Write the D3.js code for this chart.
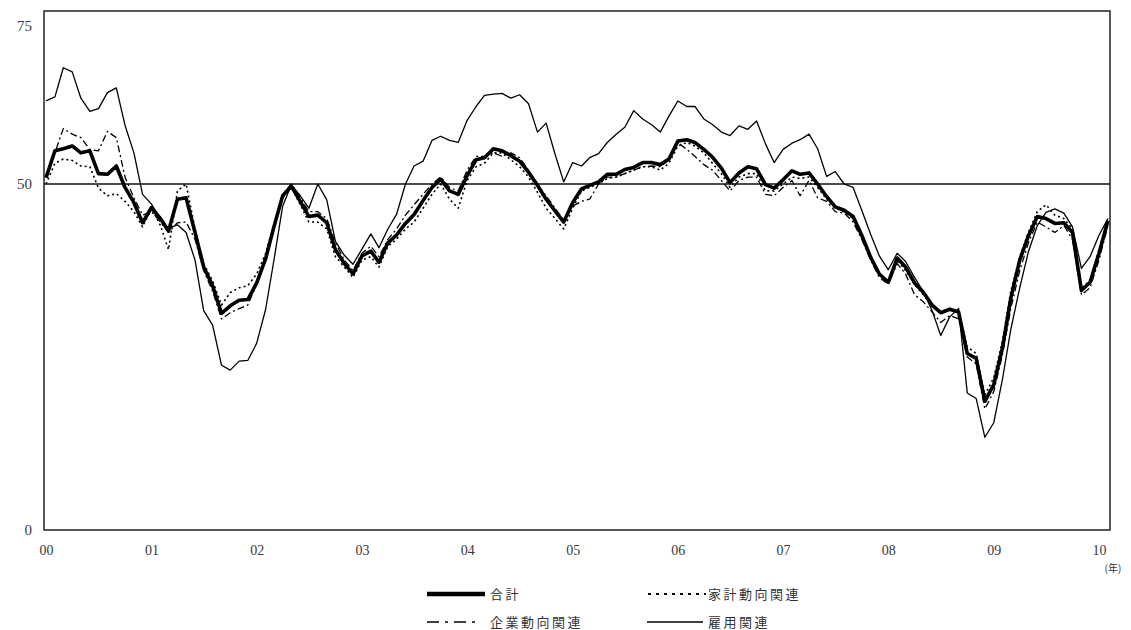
<!DOCTYPE html>
<html>
<head>
<meta charset="utf-8">
<script src="https://cdn.jsdelivr.net/npm/d3@7"></script>
<style>
  body { margin: 0; background: #fff; }
</style>
</head>
<body>
<div id="chart"></div>
<script>
// monthly DI, Jan 2000 - Feb 2010
const total = [
  50.9,54.8,55.1,55.5,54.5,54.8,51.5,51.4,52.6,49.5,47.3,44.4,
  46.6,45.0,43.2,47.8,48.0,43.0,38.0,35.3,31.3,32.4,33.2,33.3,
  35.7,39.2,43.7,48.3,49.7,47.5,45.3,45.5,44.4,40.5,38.5,37.0,
  39.6,40.3,38.7,41.5,42.6,44.3,45.6,47.6,49.5,50.7,49.0,48.5,
  51.2,53.5,53.8,55.1,54.8,54.1,53.3,51.7,49.8,47.8,46.1,44.5,
  47.3,49.3,49.8,50.3,51.4,51.4,52.1,52.4,53.1,53.1,52.8,53.6,
  56.2,56.4,56.0,55.0,53.9,52.3,50.2,51.6,52.5,52.2,49.9,49.4,
  50.6,51.9,51.4,51.6,50.0,48.2,46.7,46.2,45.3,42.6,39.4,37.0,
  35.8,39.3,38.0,35.7,34.4,32.5,31.4,31.9,31.5,25.5,24.8,18.6,
  21.0,26.5,33.5,39.0,42.5,45.3,45.0,44.3,44.4,43.0,34.6,35.8,
  40.0,44.7
];
const household = [
  50.0,53.0,53.6,53.4,52.6,52.5,49.4,48.3,48.6,47.5,46.0,43.8,
  46.5,44.0,40.5,49.0,50.0,43.5,38.5,36.0,32.5,34.3,35.0,35.3,
  37.0,40.0,44.0,48.0,49.5,47.0,44.5,44.5,43.5,39.5,38.0,36.5,
  39.0,39.5,38.0,41.0,42.0,43.5,44.5,46.5,48.5,50.0,47.8,46.5,
  50.5,52.5,53.0,54.5,54.5,53.5,52.5,51.0,48.8,46.5,45.0,43.5,
  46.5,49.0,49.5,50.0,50.8,51.0,51.5,52.0,52.5,52.5,52.0,53.0,
  55.5,56.0,55.5,54.5,53.0,51.5,49.5,51.0,51.5,51.5,49.0,49.0,
  50.0,51.0,50.8,51.0,49.5,47.8,46.5,46.0,45.0,42.5,39.5,37.0,
  36.0,39.0,37.5,35.5,34.0,32.5,31.5,32.0,31.5,26.5,25.5,19.5,
  22.0,27.5,34.5,39.5,43.0,46.0,47.0,45.5,45.0,43.5,35.0,36.0,
  40.5,45.0
];
const corporate = [
  51.0,54.5,58.0,57.2,56.7,55.0,54.8,57.6,56.7,51.0,48.0,45.5,
  46.0,44.5,43.0,44.4,44.5,42.0,37.5,34.5,30.5,31.4,32.0,32.5,
  35.5,39.0,43.5,48.5,50.0,48.0,46.0,46.0,45.0,41.5,39.0,37.5,
  40.0,41.0,39.5,42.0,43.5,45.5,47.0,48.5,50.0,51.0,49.5,49.0,
  52.0,54.0,54.0,54.5,54.0,54.5,53.8,52.0,50.0,48.3,46.5,44.8,
  46.8,47.5,47.8,50.0,51.0,51.0,51.5,52.0,52.5,52.6,52.5,53.5,
  56.0,55.0,54.0,52.8,52.0,50.5,49.0,50.5,51.0,51.0,48.5,48.3,
  49.5,50.5,48.3,50.5,48.0,47.5,46.0,45.8,44.5,42.0,39.0,36.5,
  35.5,38.5,37.0,34.0,33.0,31.5,30.0,31.0,30.5,25.0,24.0,17.5,
  20.0,25.5,32.0,37.5,41.5,44.5,43.8,43.0,44.0,42.0,34.0,35.0,
  39.0,44.0
];
const employment = [
  62.0,62.6,66.8,66.2,62.4,60.5,60.9,63.2,63.9,58.5,54.5,48.5,
  47.1,44.9,43.6,44.1,43.0,39.0,31.7,29.6,23.8,23.1,24.4,24.5,
  27.0,31.9,38.8,46.8,49.9,48.3,46.5,50.0,47.7,41.7,39.7,38.4,
  40.6,42.8,40.8,43.5,45.6,50.0,52.6,53.3,56.3,56.9,56.3,56.0,
  59.2,61.2,62.8,63.0,63.1,62.4,62.9,61.6,57.5,58.8,54.3,50.3,
  53.1,52.6,53.8,54.4,56.0,57.2,58.2,60.6,59.4,58.6,57.5,59.8,
  62.0,61.2,61.2,59.4,58.6,57.5,57.0,58.4,57.9,59.1,55.8,53.1,
  55.0,55.9,56.4,57.2,55.1,51.1,51.8,50.0,49.5,46.2,42.7,39.6,
  37.6,40.0,38.8,36.5,34.5,31.7,28.1,30.8,32.0,19.8,19.0,13.4,
  15.5,22.0,29.0,35.0,40.2,44.0,45.9,46.4,45.8,43.8,37.8,39.5,
  42.6,45.0
];
const seriesNames = ["合計", "家計動向関連", "企業動向関連", "雇用関連"];
const yTicks = [0, 50, 75];

const width = 1131, height = 630;
const plot = {left: 44, right: 1110, top: 11, bottom: 530};

const svg = d3.select("#chart").append("svg")
    .attr("width", width)
    .attr("height", height);

const months = total.map((d, i) => new Date(2000, i, 1));

const x = d3.scaleTime()
    .domain([new Date(2000, 0, 1), new Date(2010, 0, 1)])
    .range([46, 1099]);
const y = d3.scaleLinear().domain([0, 75]).range([plot.bottom, plot.top]);

// frame
svg.append("rect")
    .attr("x", plot.left)
    .attr("y", plot.top)
    .attr("width", plot.right - plot.left)
    .attr("height", plot.bottom - plot.top)
    .attr("fill", "none")
    .attr("stroke", "#222")
    .attr("stroke-width", 1.5);

// 50 line
svg.append("line")
    .attr("x1", plot.left).attr("x2", plot.right)
    .attr("y1", y(50)).attr("y2", y(50))
    .attr("stroke", "#111")
    .attr("stroke-width", 1.5);

// y axis labels
const yAxis = svg.append("g")
    .attr("transform", `translate(${plot.left},0)`)
    .call(d3.axisLeft(y).tickValues(yTicks).tickSize(0).tickPadding(12));
yAxis.select(".domain").remove();
yAxis.selectAll("text")
    .style("font-family", "Liberation Serif, serif")
    .style("font-size", "15px")
    .attr("fill", "#3a3a3a")
    .attr("dy", d => d === 75 ? "1.3em" : "0.32em");

// x axis labels
const xAxis = svg.append("g")
    .attr("transform", `translate(0,${plot.bottom})`)
    .call(d3.axisBottom(x)
        .ticks(d3.timeYear.every(1))
        .tickFormat(d3.timeFormat("%y"))
        .tickSize(0)
        .tickPadding(15));
xAxis.select(".domain").remove();
xAxis.selectAll("text")
    .style("font-family", "Liberation Serif, serif")
    .style("font-size", "14px")
    .attr("fill", "#3a3a3a");

svg.append("text")
    .attr("x", 1113)
    .attr("y", 572)
    .attr("text-anchor", "middle")
    .style("font-family", "Noto Sans CJK JP, sans-serif")
    .style("font-size", "10px")
    .attr("fill", "#333")
    .text("(年)");

// lines
const line = d3.line()
    .x((d, i) => x(months[i]))
    .y(d => y(d));

const styles = [
    {data: total, width: 3.6, dash: null},
    {data: household, width: 1.6, dash: "2,3"},
    {data: corporate, width: 1.3, dash: "7,3,2,3"},
    {data: employment, width: 1.3, dash: null}
];

[3, 2, 1, 0].forEach(k => {
    svg.append("path")
        .datum(styles[k].data)
        .attr("fill", "none")
        .attr("stroke", "#000")
        .attr("stroke-width", styles[k].width)
        .attr("stroke-linejoin", "round")
        .attr("stroke-dasharray", styles[k].dash)
        .attr("d", line);
});

// legend
const legendPos = [
    {x: 427, y: 594, len: 58},
    {x: 648, y: 594, len: 58},
    {x: 427, y: 622, len: 54},
    {x: 647, y: 622, len: 56}
];

seriesNames.forEach((name, k) => {
    const p = legendPos[k];
    svg.append("line")
        .attr("x1", p.x).attr("x2", p.x + p.len)
        .attr("y1", p.y).attr("y2", p.y)
        .attr("stroke", "#000")
        .attr("stroke-width", k === 0 ? 4.5 : styles[k].width + 0.4)
        .attr("stroke-dasharray", k === 1 ? "3,5" : k === 2 ? "12,6,3,6" : null);
    svg.append("text")
        .attr("x", k % 2 === 0 ? 490 : 708)
        .attr("y", p.y)
        .attr("dy", "0.36em")
        .style("font-family", "Noto Sans CJK JP, sans-serif")
        .style("font-size", "13px")
        .style("letter-spacing", "2.5px")
        .attr("fill", "#333")
        .text(name);
});
</script>
</body>
</html>
